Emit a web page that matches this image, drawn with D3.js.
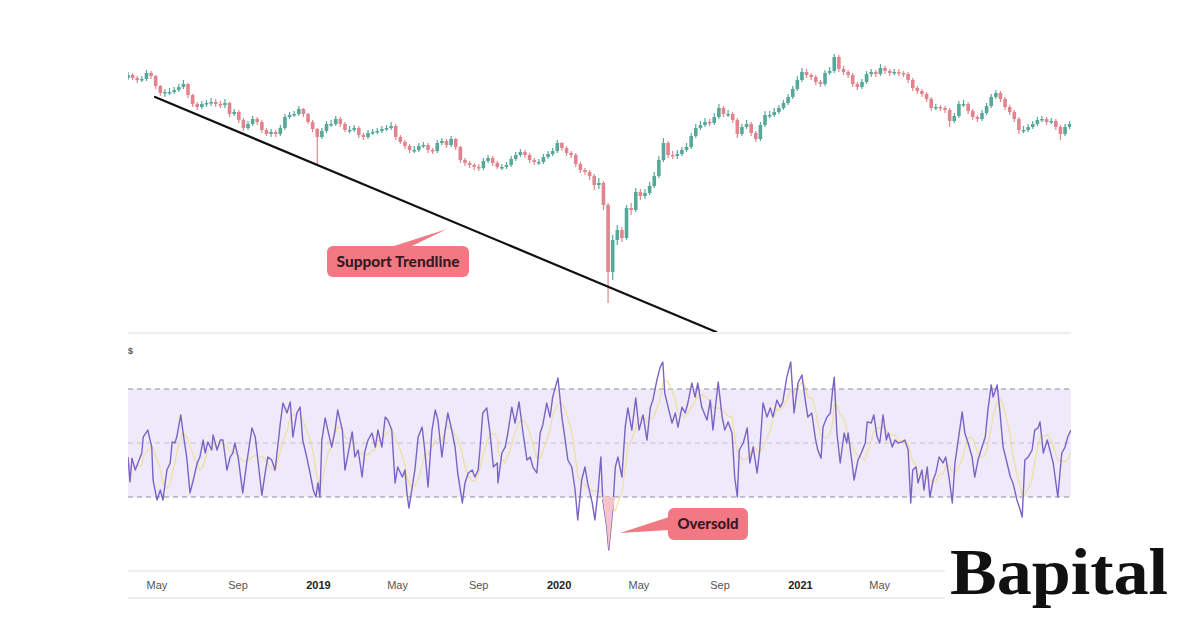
<!DOCTYPE html>
<html><head><meta charset="utf-8">
<script src="https://cdn.jsdelivr.net/npm/d3@7"></script>
<style>html,body{margin:0;padding:0;background:#fff;} svg{display:block;}</style>
</head><body>
<svg id="chart" width="1200" height="630"></svg>
<script>
// ---------- DATA ----------
const startDate = "2018-03-19";
const endDate = "2022-02-16";
const firstOpen = 322;
// weekly candles (Mondays from 2018-03-19); open = previous close
const closes = [325,322,320,321,327,324,314,307,308,308,
310,313,316,305,296,293,296,297,298,296,
295,297,286,288,280,272,276,281,278,270,
266,268,266,272,283,285,286,291,286,278,
271,263,269,276,276,281,276,270,270,272,
265,263,267,268,269,271,272,274,263,258,
254,250,250,254,255,250,249,257,259,255,
261,253,240,237,235,233,232,239,242,237,
233,233,235,241,245,248,245,240,238,238,
243,246,249,257,252,247,245,236,230,228,
224,215,217,195,128,160,170,162,192,190,
208,204,207,214,224,240,257,245,244,246,
250,253,264,272,275,278,277,283,292,286,
286,280,266,273,276,267,261,275,285,285,
288,292,297,303,311,320,328,325,323,318,
316,327,329,343,331,328,325,316,313,318,
326,328,326,332,329,327,328,327,326,320,
312,309,306,301,292,293,292,290,279,284,
296,296,289,283,281,287,294,303,307,301,
293,288,281,270,270,273,276,280,281,278,
279,273,266,273,276];
const highs = [328,327,324,324,330,329,325,315,311,312,
313,316,320,317,306,298,299,300,302,301,
299,301,298,291,290,282,279,284,283,280,
272,271,270,275,286,288,289,294,292,287,
280,272,272,279,280,284,283,278,274,275,
274,267,270,271,272,274,275,278,276,265,
260,256,254,257,258,257,252,260,262,261,
264,262,254,242,239,237,236,242,245,244,
239,236,238,244,248,251,250,247,242,241,
246,249,252,260,258,254,249,247,238,232,
230,226,222,219,197,165,175,173,195,197,
212,211,211,218,228,244,262,259,249,250,
253,257,267,276,279,282,281,287,296,294,
290,288,282,276,280,278,269,278,289,289,
292,295,300,306,314,324,332,331,327,325,
320,330,333,346,345,334,330,327,318,321,
329,331,330,336,334,331,331,331,329,328,
322,314,311,308,303,296,295,294,292,287,
299,300,298,291,285,290,297,306,310,309,
303,295,290,283,274,276,279,283,284,283,
282,281,275,276,279];
const lows = [320,320,317,318,319,321,311,304,303,305,
306,308,311,302,293,290,291,293,294,293,
292,292,283,284,277,269,270,274,275,267,
264,263,263,264,270,281,283,284,283,276,
268,235,261,267,273,274,273,268,267,268,
262,260,261,265,266,267,269,270,260,256,
251,247,247,248,252,247,246,247,255,252,
253,250,237,234,232,230,229,230,237,234,
231,230,231,233,239,243,242,237,235,235,
236,241,244,247,249,244,242,233,227,225,
220,210,211,190,97,120,155,158,160,185,
188,200,201,205,212,222,238,242,241,241,
244,248,251,262,270,273,274,275,281,283,
283,277,262,264,271,264,258,259,273,282,
283,286,290,295,301,309,318,322,320,315,
313,314,325,327,328,325,322,313,310,311,
316,323,323,324,326,324,325,324,323,317,
309,306,303,298,289,290,289,287,273,277,
282,293,286,280,278,279,285,292,301,298,
290,285,278,266,267,268,271,274,278,275,
276,270,260,264,271];
// RSI(14) readings: [days since startDate, value]
const rsiPoints = [[0,44.8],[3,35.6],[6,44.4],[11,40.0],[15,42.6],[21,46.3],[23,52.2],[30,54.8],[36,48.5],[38,36.3],[44,28.9],[49,32.6],[53,28.9],[59,40.0],[64,42.6],[67,50.4],[71,50.0],[74,52.2],[80,60.4],[83,54.8],[89,44.8],[94,31.5],[99,36.3],[105,42.6],[109,44.8],[114,51.1],[117,46.3],[121,50.4],[127,47.4],[129,53.0],[135,47.4],[140,51.1],[144,51.1],[150,40.0],[155,44.8],[159,46.3],[162,50.0],[167,44.8],[174,31.5],[180,42.6],[188,55.6],[193,52.2],[197,43.7],[203,30.7],[208,38.9],[212,44.8],[218,43.7],[223,40.0],[227,48.5],[231,57.4],[235,64.8],[241,61.1],[246,65.2],[250,52.2],[256,61.1],[261,63.3],[265,51.1],[271,44.8],[276,38.9],[281,32.6],[285,30.0],[288,35.2],[291,30.0],[294,51.1],[299,59.3],[303,54.8],[309,48.5],[314,54.8],[318,62.2],[325,54.8],[329,40.0],[334,46.3],[340,54.1],[344,44.8],[349,47.4],[355,37.4],[359,46.7],[364,51.1],[370,53.7],[375,48.5],[379,54.8],[385,48.5],[390,59.6],[394,58.5],[400,54.8],[405,35.2],[409,41.1],[416,37.4],[420,40.0],[423,31.5],[426,25.9],[431,33.7],[435,40.0],[440,52.2],[446,55.9],[450,47.4],[455,33.7],[461,54.8],[466,62.2],[470,58.5],[476,44.8],[481,54.8],[485,61.1],[491,54.8],[496,48.5],[500,38.9],[507,27.8],[511,35.2],[516,38.9],[522,40.0],[526,37.4],[531,40.0],
[534,48.5],[538,61.1],[544,63.0],[549,53.7],[554,41.1],[560,42.6],[561,35.2],[567,46.3],[572,48.5],[576,53.7],[582,63.3],[587,57.4],[593,65.2],[599,53.7],[605,43.7],[610,44.8],[614,41.1],[620,38.9],[625,53.7],[629,56.7],[635,64.8],[640,59.6],[644,67.0],[652,74.1],[658,59.6],[663,51.1],[667,43.7],[673,41.1],[678,32.6],[682,21.5],[688,36.3],[693,41.1],[697,35.2],[704,27.8],[708,21.5],[713,32.6],[717,44.8],[720,28.9],[726,18.9],[729,10.4],[735,25.2],[739,41.1],[743,44.8],[749,37.4],[754,55.9],[758,63.0],[764,54.8],[770,66.7],[775,54.8],[781,60.4],[787,51.1],[792,63.0],[796,65.9],[802,73.3],[807,78.1],[811,80.0],[814,68.5],[819,63.3],[825,57.4],[830,61.1],[834,55.9],[840,63.3],[845,61.1],[849,64.8],[855,72.2],[860,67.0],[864,72.2],[870,63.3],[878,58.5],[883,65.9],[887,54.8],[895,72.6],[901,59.6],[905,54.8],[910,57.8],[916,53.7],[920,37.4],[924,30.0],[927,47.4],[933,50.0],[939,55.6],[943,42.6],[948,48.5],[954,38.9],[958,47.4],[963,64.8],[969,59.6],[974,63.0],[978,59.6],[984,65.9],[989,63.3],
[993,65.2],[999,74.4],[1005,80.0],[1010,61.1],[1016,72.2],[1022,75.2],[1027,65.9],[1031,59.6],[1037,61.1],[1042,52.2],[1046,47.4],[1051,44.4],[1054,55.9],[1060,59.6],[1065,61.1],[1069,70.7],[1071,74.4],[1075,53.7],[1080,42.6],[1086,53.7],[1090,50.0],[1092,53.7],[1098,42.6],[1101,36.3],[1107,43.7],[1112,46.3],[1118,50.0],[1121,57.8],[1127,57.4],[1131,60.4],[1136,52.2],[1140,50.0],[1145,60.4],[1150,51.1],[1153,53.7],[1159,48.5],[1163,51.1],[1168,50.0],[1174,50.4],[1178,51.1],[1183,47.4],[1187,27.8],[1190,40.0],[1195,41.1],[1198,35.2],[1204,40.0],[1207,32.6],[1212,41.1],[1216,30.0],[1221,36.3],[1225,38.9],[1230,44.8],[1236,42.6],[1240,44.8],[1245,37.4],[1250,27.8],[1254,42.6],[1259,51.1],[1265,61.5],[1269,53.7],[1274,50.0],[1280,44.8],[1284,37.4],[1289,43.7],[1295,48.5],[1300,52.2],[1304,62.2],[1309,71.5],[1312,67.0],[1318,71.5],[1322,62.2],[1327,48.5],[1333,42.6],[1338,37.4],[1342,35.2],[1348,28.9],[1353,25.2],[1356,22.6],[1360,43.7],[1365,44.8],[1371,47.4],[1375,54.8],[1380,55.6],[1383,57.8],[1388,46.3],[1394,51.1],[1398,47.4],[1403,42.6],[1410,30.0],[1416,46.3],[1421,48.5],[1425,52.2],[1430,54.8]];
const rsiLevels = [70, 50, 30];
// visible time-axis labels (the later ones sit under the logo in the reference)
const tickDates = ["2018-05-01","2018-09-01","2019-01-01","2019-05-01","2019-09-01","2020-01-01","2020-05-01","2020-09-01","2021-01-01","2021-05-01"];
const tickLabels = ["May","Sep","2019","May","Sep","2020","May","Sep","2021","May"];
const trendline = [{date:"2018-04-29", price:303}, {date:"2020-08-27", price:68}];
const oversoldWindow = ["2020-03-04", "2020-03-28"];
const calloutTexts = ["Support Trendline", "Oversold"];
const brand = "Bapital";

// ---------- SETUP ----------
const parse = d3.timeParse("%Y-%m-%d");
const t0 = parse(startDate);
const svg = d3.select("#chart");
const L = 128, R = 1071;
const x = d3.scaleTime().domain([t0, parse(endDate)]).range([L, R]);
const yP = d3.scaleLinear().domain([68, 360]).range([332, 40]);
const yR = d3.scaleLinear().domain([0, 100]).range([578, 308]);

const defs = svg.append("defs");
defs.append("clipPath").attr("id","clipTop").append("rect").attr("x",L).attr("y",0).attr("width",R-L).attr("height",332);
defs.append("clipPath").attr("id","clipRsi").append("rect").attr("x",L).attr("y",334).attr("width",R-L).attr("height",236);

// pane separators / axis lines
const sepColor = "#e9e9ec";
[333, 571, 598].forEach(yy => svg.append("line").attr("x1",L).attr("x2",R).attr("y1",yy).attr("y2",yy)
  .attr("stroke",sepColor).attr("stroke-width",1.5));

// ---------- CANDLES ----------
const weeks = d3.timeMonday.range(t0, d3.timeDay.offset(parse(endDate), 1));
const candles = closes.map((c, i) => ({
  date: weeks[i], open: i === 0 ? firstOpen : closes[i-1], close: c,
  high: Math.max(highs[i], c, i === 0 ? firstOpen : closes[i-1]),
  low: Math.min(lows[i], c, i === 0 ? firstOpen : closes[i-1])
}));
const up = "#55a89a", down = "#e2848d";
const gC = svg.append("g").attr("clip-path","url(#clipTop)");
const bw = 3.6;
gC.selectAll("line.wick").data(candles).join("line").attr("class","wick")
  .attr("x1", d => x(d.date)).attr("x2", d => x(d.date))
  .attr("y1", d => yP(d.high)).attr("y2", d => yP(d.low))
  .attr("stroke", d => d.close >= d.open ? up : down).attr("stroke-width", 1.2);
gC.selectAll("rect.body").data(candles).join("rect").attr("class","body")
  .attr("x", d => x(d.date) - bw/2).attr("width", bw)
  .attr("y", d => yP(Math.max(d.open, d.close)))
  .attr("height", d => Math.max(1.5, Math.abs(yP(d.open) - yP(d.close))))
  .attr("fill", d => d.close >= d.open ? up : down);

// trendline
gC.append("line")
  .attr("x1", x(parse(trendline[0].date))).attr("y1", yP(trendline[0].price))
  .attr("x2", x(parse(trendline[1].date))).attr("y2", yP(trendline[1].price))
  .attr("stroke","#111").attr("stroke-width",2.2).attr("stroke-linecap","round");

// ---------- RSI ----------
const rsi = rsiPoints.map(p => ({date: d3.timeDay.offset(t0, p[0]), v: p[1]}));
const gR = svg.append("g").attr("clip-path","url(#clipRsi)");
gR.append("rect").attr("x",L).attr("width",R-L)
  .attr("y", yR(rsiLevels[0])).attr("height", yR(rsiLevels[2]) - yR(rsiLevels[0]))
  .attr("fill","#eeeafa");
rsiLevels.forEach((lv, i) => gR.append("line").attr("x1",L).attr("x2",R)
  .attr("y1", yR(lv)).attr("y2", yR(lv))
  .attr("stroke", i === 1 ? "#c2c0cc" : "#8d8f99").attr("stroke-width",1)
  .attr("stroke-dasharray","5,4"));

// oversold highlight
defs.append("clipPath").attr("id","clipOS").append("rect")
  .attr("x", x(parse(oversoldWindow[0]))).attr("width", x(parse(oversoldWindow[1])) - x(parse(oversoldWindow[0])))
  .attr("y", yR(30)).attr("height", 80);
svg.append("path").datum(rsi).attr("clip-path","url(#clipOS)")
  .attr("d", d3.area().x(d => x(d.date)).y0(yR(30)).y1(d => yR(Math.min(d.v, 30))))
  .attr("fill","#f6c3c8");

// RSI-based MA (trailing mean)
const ma = rsi.map((d, i) => ({date: d.date, v: d3.mean(rsi.slice(Math.max(0, i-4), i+1), e => e.v)}));
gR.append("path").datum(ma).attr("fill","none").attr("stroke","#f2d98f").attr("stroke-opacity",0.8)
  .attr("stroke-width",1.3).attr("d", d3.line().x(d => x(d.date)).y(d => yR(d.v)));
gR.append("path").datum(rsi).attr("fill","none").attr("stroke","#7b62c6")
  .attr("stroke-width",1.4).attr("stroke-linejoin","round")
  .attr("d", d3.line().x(d => x(d.date)).y(d => yR(d.v)));

svg.append("text").attr("x",128).attr("y",354).attr("font-family","Liberation Sans, Arial, sans-serif")
  .attr("font-size",9).attr("font-weight","bold").attr("fill","#555").text("$");

// ---------- X AXIS ----------
const axis = d3.axisBottom(x).tickValues(tickDates.map(parse))
  .tickFormat((d, i) => tickLabels[i]).tickSize(0).tickPadding(0);
const gA = svg.append("g").attr("transform","translate(0,581)").call(axis);
gA.select(".domain").remove();
gA.selectAll("text").attr("font-family","Liberation Sans, Arial, sans-serif").attr("font-size",11)
  .attr("fill", (d, i) => /^\d{4}$/.test(tickLabels[i]) ? "#222" : "#555")
  .attr("font-weight", (d, i) => /^\d{4}$/.test(tickLabels[i]) ? "bold" : "normal");

// ---------- CALLOUTS ----------
function callout(text, bx, by, bw2, bh, pointer, tl) {
  const g = svg.append("g");
  g.append("path").attr("d", d3.line()(pointer) + "Z").attr("fill","#f27983");
  g.append("rect").attr("x",bx).attr("y",by).attr("width",bw2).attr("height",bh).attr("rx",6)
    .attr("fill","#f27983");
  g.append("text").attr("x", bx + bw2/2).attr("y", by + bh/2 + 5).attr("text-anchor","middle")
    .attr("font-family","Lato, 'Noto Sans', sans-serif").attr("font-weight",900).attr("font-size",14.5)
    .attr("textLength", tl).attr("lengthAdjust","spacingAndGlyphs")
    .attr("fill","#3a1a1e").text(text);
}
callout(calloutTexts[0], 327, 246, 142, 31, [[391,247],[410,247],[447,229]], 123);
callout(calloutTexts[1], 668, 508, 80, 32, [[669,517],[669,530],[620,533]], 61);

// ---------- BRAND ----------
svg.append("rect").attr("x",945).attr("y",540).attr("width",255).attr("height",75).attr("fill","#fff");
svg.append("text").attr("x",950).attr("y",594).attr("font-family","'Liberation Serif', 'DejaVu Serif', serif")
  .attr("font-weight","bold").attr("font-size",65).attr("fill","#111")
  .attr("textLength",218).attr("lengthAdjust","spacingAndGlyphs").text(brand);
</script>
</body></html>
